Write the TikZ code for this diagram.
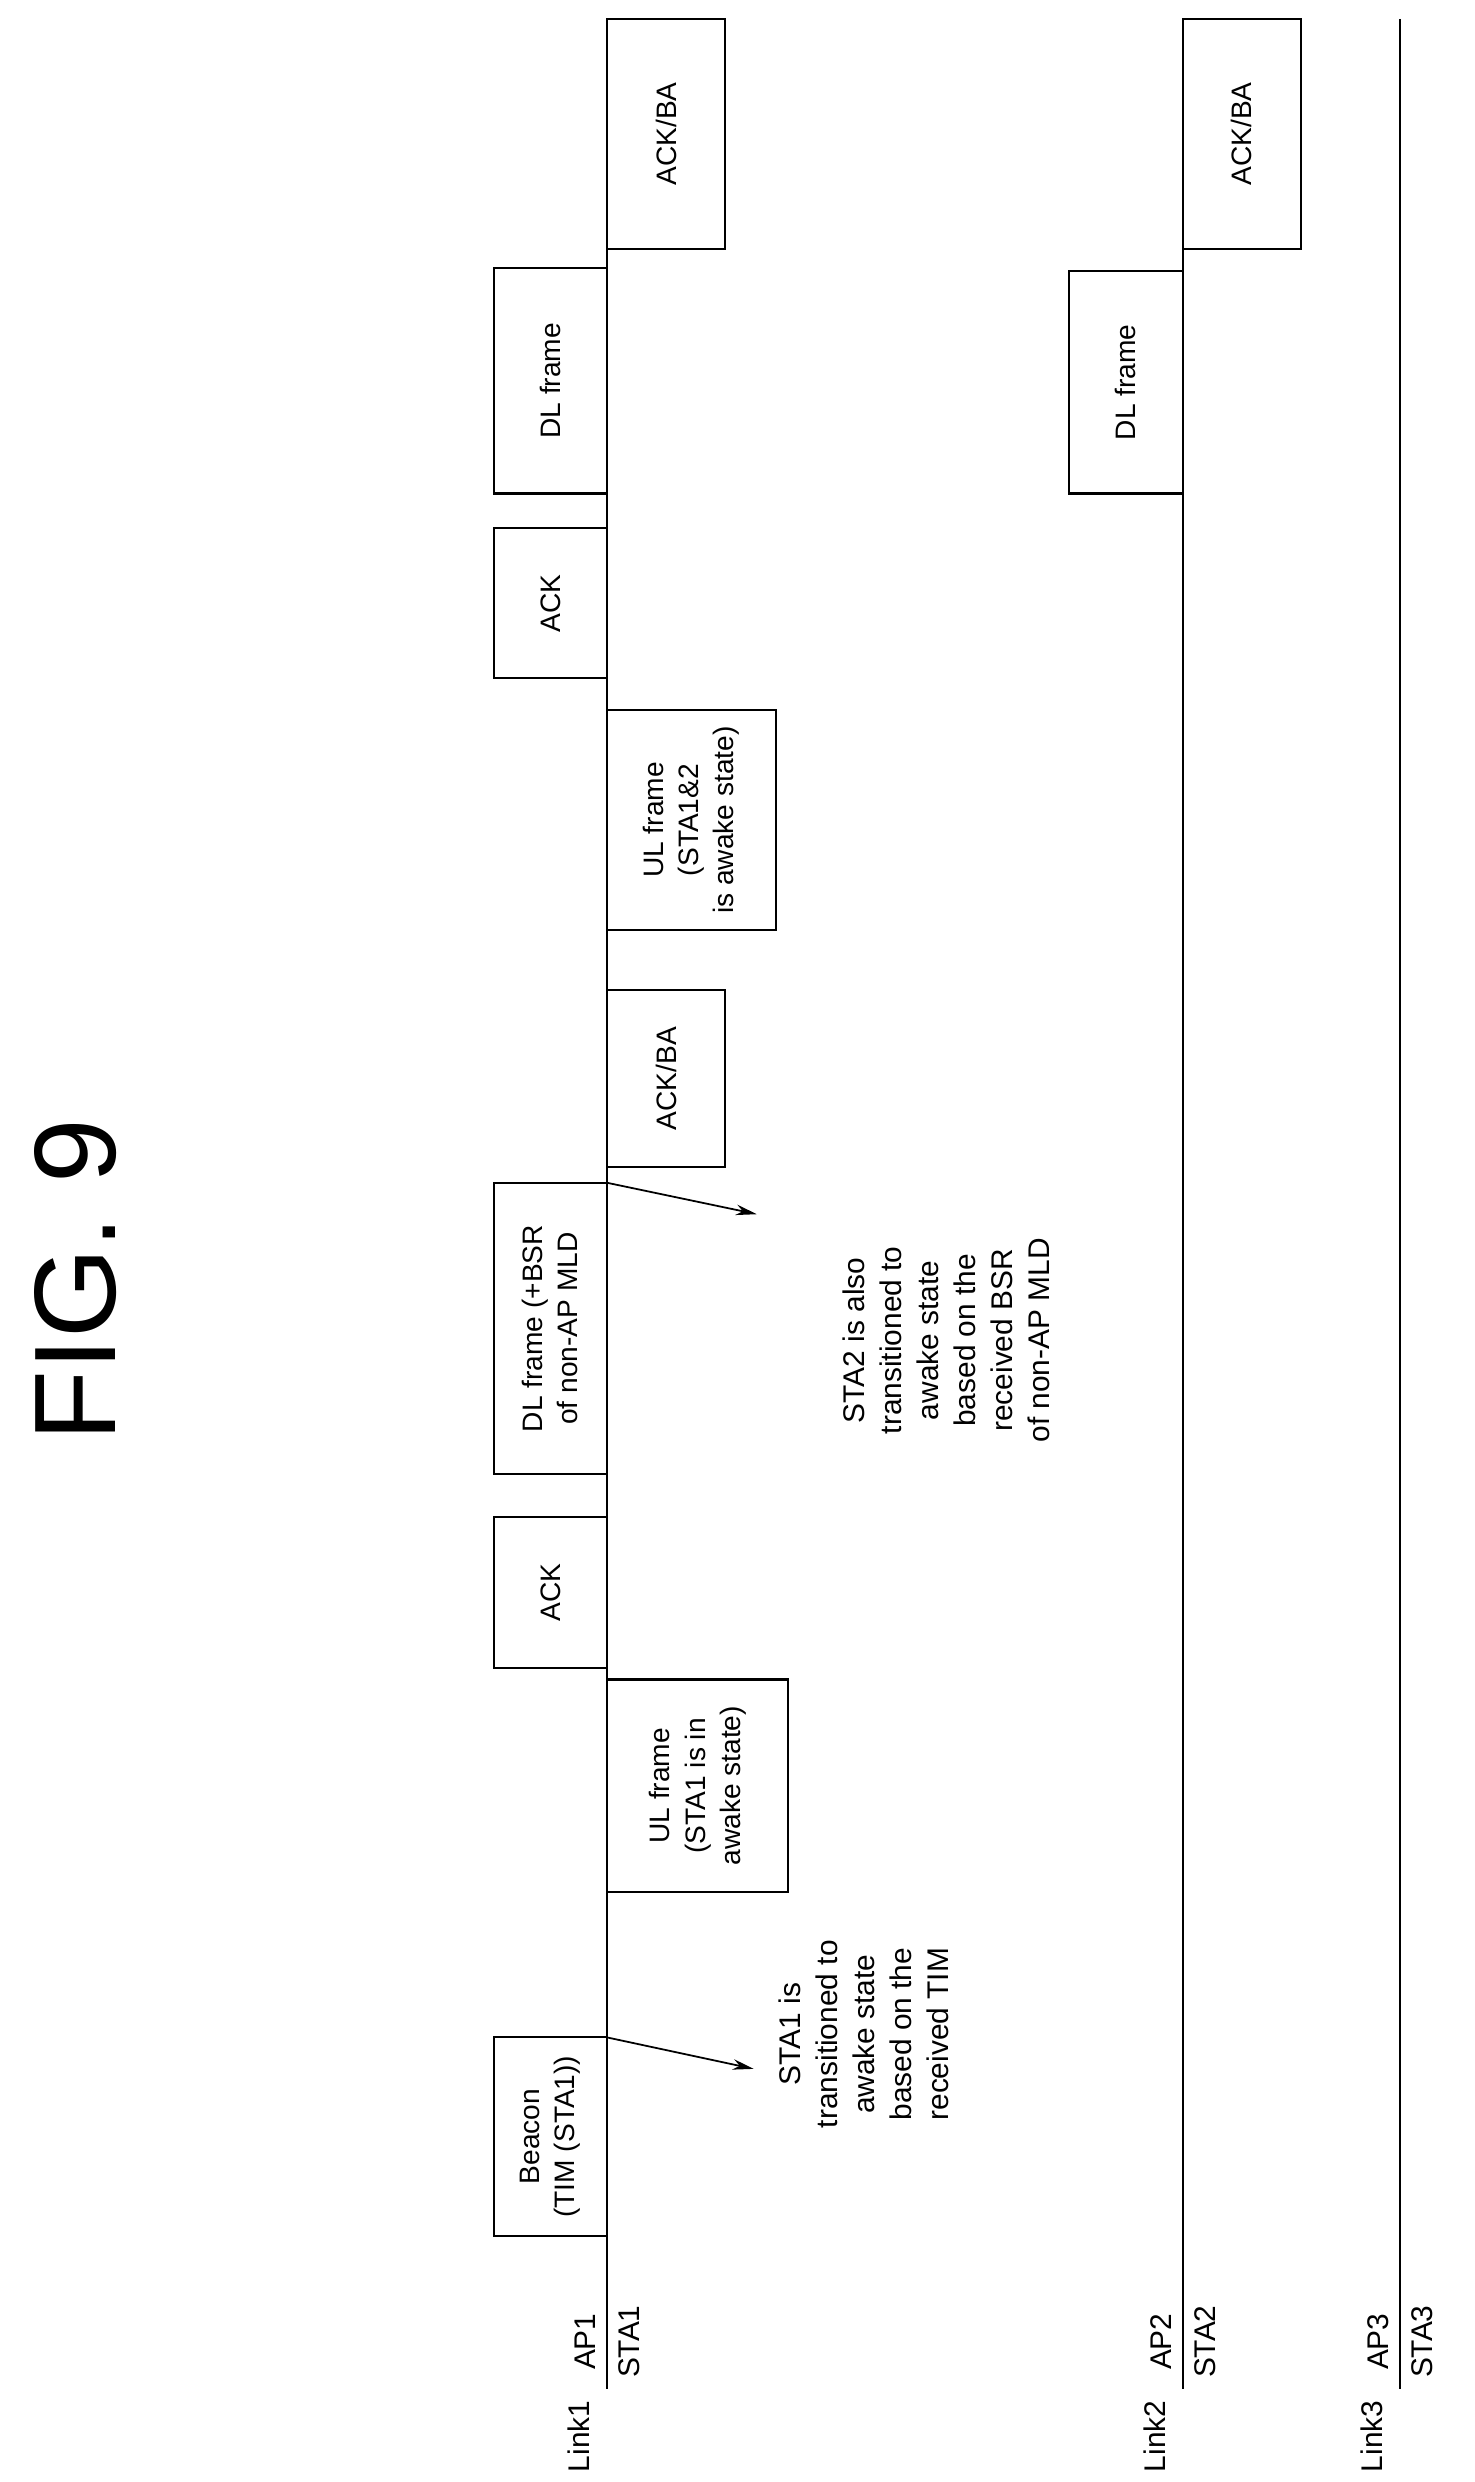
\documentclass[tikz,border=0pt]{standalone}
\usepackage{fontspec}
\setmainfont{Liberation Sans}
\usetikzlibrary{arrows.meta}
\begin{document}
\begin{tikzpicture}[x=0.03152cm,y=-0.03152cm,
  fbox/.style={draw,line width=1.2pt,rotate=90,align=center,inner sep=0pt,outer sep=0pt,font=\fontsize{16}{20}\selectfont},
  lbl/.style={rotate=90,font=\fontsize{17}{21}\selectfont,inner sep=1pt},
  axis/.style={line width=1.2pt},
  arr/.style={line width=1pt,-{Stealth[length=12pt,width=6pt]}}]
\def\u{0.8963pt}
\useasboundingbox (0,0) rectangle (935,1574);
\node[rotate=90,font=\fontsize{66}{70}\selectfont] (fig) at (48,812) {FIG. 9};
\foreach \n/\x/\k in {1/385/1,2/750/2,3/888/3}{
  \coordinate (t\n) at (\x,12);
  \coordinate (b\n) at (\x,1515);
  \draw[axis] (t\n) -- (b\n);
  \node[lbl] (ap\n) at (\x-14,1485) {AP\k};
  \node[lbl] (sta\n) at (\x+14,1485) {STA\k};
  \node[lbl] (link\n) at (\x-18,1545) {Link\k};
}
\node[fbox,minimum width=126*\u,minimum height=72*\u] (beacon) at (349,1355) {Beacon\\(TIM (STA1))};
\node[fbox,minimum width=135*\u,minimum height=115*\u] (ul1) at (442.5,1132.5) {UL frame\\(STA1 is in\\awake state)};
\node[fbox,minimum width=96*\u,minimum height=72*\u] (ack1) at (349,1010) {ACK};
\node[fbox,minimum width=185*\u,minimum height=72*\u] (dl1) at (349,842.5) {DL frame (+BSR\\of non-AP MLD};
\node[fbox,minimum width=112*\u,minimum height=75*\u] (ba1) at (422.5,684) {ACK/BA};
\node[fbox,minimum width=140*\u,minimum height=107*\u] (ul2) at (438.5,520) {UL frame\\(STA1\&2\\is awake state)};
\node[fbox,minimum width=95*\u,minimum height=72*\u] (ack2) at (349,382.5) {ACK};
\node[fbox,minimum width=143*\u,minimum height=72*\u] (dl2) at (349,241.5) {DL frame};
\node[fbox,minimum width=146*\u,minimum height=75*\u] (ba2) at (422.5,85) {ACK/BA};
\node[fbox,minimum width=141*\u,minimum height=72*\u] (dl3) at (714,242.5) {DL frame};
\node[fbox,minimum width=146*\u,minimum height=75*\u] (ba3) at (787.5,85) {ACK/BA};
\node[lbl,align=center] (n1) at (548,1290) {STA1 is\\transitioned to\\awake state\\based on the\\received TIM};
\node[lbl,align=center] (n2) at (600,850) {STA2 is also\\transitioned to\\awake state\\based on the\\received BSR\\of non-AP MLD};
\coordinate (e1) at (478,1312);
\coordinate (e2) at (480,770);
\draw[arr] (beacon.south east) -- (e1);
\draw[arr] (dl1.south east) -- (e2);
\end{tikzpicture}
\end{document}
